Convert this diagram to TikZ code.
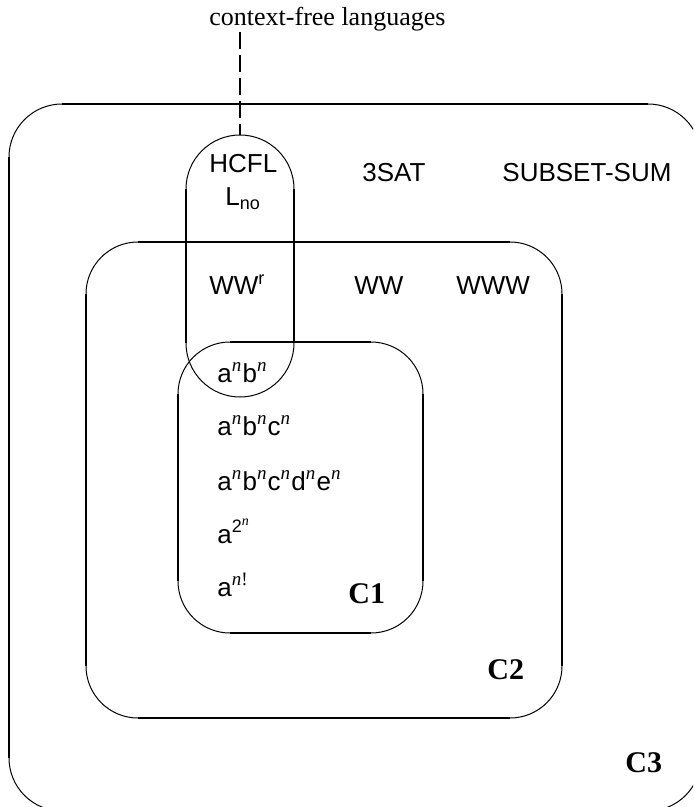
\documentclass[tikz,border=0pt]{standalone}
\usepackage{fontspec}
\setmainfont{Liberation Sans}
\newfontfamily\ser{Liberation Serif}
\newcommand\upit[1]{\raisebox{0.42em}{\fontsize{9.5}{9.5}\selectfont\ser\itshape #1}\kern0.6pt}
\newcommand\upsf[1]{\raisebox{0.42em}{\fontsize{9}{9}\selectfont #1}}
\newcommand\dnsf[1]{\raisebox{-0.12em}{\fontsize{9}{9}\selectfont #1}}
\newcommand\rbox[5]{%
  \pgfmathsetlengthmacro\rr{#5*0.5pt}%
  \draw[arcline, rounded corners=\rr] (#1,#2) rectangle (#3,#4);
  \draw[straightline] ({#1+#5},#2) -- ({#3-#5},#2);
  \draw[straightline] ({#1+#5},#4) -- ({#3-#5},#4);
  \draw[straightline] (#1,{#2+#5}) -- (#1,{#4-#5});
  \draw[straightline] (#3,{#2+#5}) -- (#3,{#4-#5});
}
\begin{document}
\begin{tikzpicture}[x=0.5pt,y=-0.5pt,
  arcline/.style={line width=0.5pt},
  straightline/.style={line width=1.1pt},
  txt/.style={anchor=base west, inner sep=0pt, font=\fontsize{13}{13}\selectfont},
  serlab/.style={anchor=base west, inner sep=0pt, font=\ser\fontsize{13}{13}\selectfont},
  cls/.style={anchor=base west, inner sep=0pt, font=\ser\bfseries\fontsize{15}{15}\selectfont},
  dashline/.style={line width=1pt, dash pattern=on 8.5pt off 3pt}]
\useasboundingbox (0,0) rectangle (693,807);
\clip (0,0) rectangle (693,807);
% containers
\rbox{9}{104}{701}{811}{53}
\rbox{86}{242}{562}{718}{52}
\rbox{178}{342}{423}{633}{52}
\rbox{186}{135}{294}{397}{54}
% label and dashed connector
\node[serlab] (cfl) at (209,26) {context-free languages};
\coordinate (hctop) at (240,135);
\coordinate (cfltip) at (240,32);
\draw[dashline] (cfltip) -- (hctop);
% texts
\node[txt] (hcfl) at (209,173) {HCFL};
\node[txt] (lno) at (225,206) {L\dnsf{no}};
\node[txt] (sat) at (362,182) {3SAT};
\node[txt] (ssum) at (502,182) {SUBSET-SUM};
\node[txt] (wwr) at (209,295) {WW\upsf{r}};
\node[txt] (ww) at (354,295) {WW};
\node[txt] (www) at (456,295) {WWW};
\node[txt] (anbn) at (217,382) {a\upit{n}b\upit{n}};
\node[txt] (anbncn) at (217,435) {a\upit{n}b\upit{n}c\upit{n}};
\node[txt] (five) at (217,490) {a\upit{n}b\upit{n}c\upit{n}d\upit{n}e\upit{n}};
\node[txt] (exp) at (217,543) {a\upsf{2\raisebox{0.35em}{\fontsize{7}{7}\selectfont\ser\itshape n}}};
\node[txt] (fact) at (217,596) {a\raisebox{0.42em}{\fontsize{9.5}{9.5}\selectfont\ser\itshape n\upshape !}};
\node[cls] (c1) at (348,603) {C1};
\node[cls] (c2) at (487,679) {C2};
\node[cls] (c3) at (625,772) {C3};
\end{tikzpicture}
\end{document}
